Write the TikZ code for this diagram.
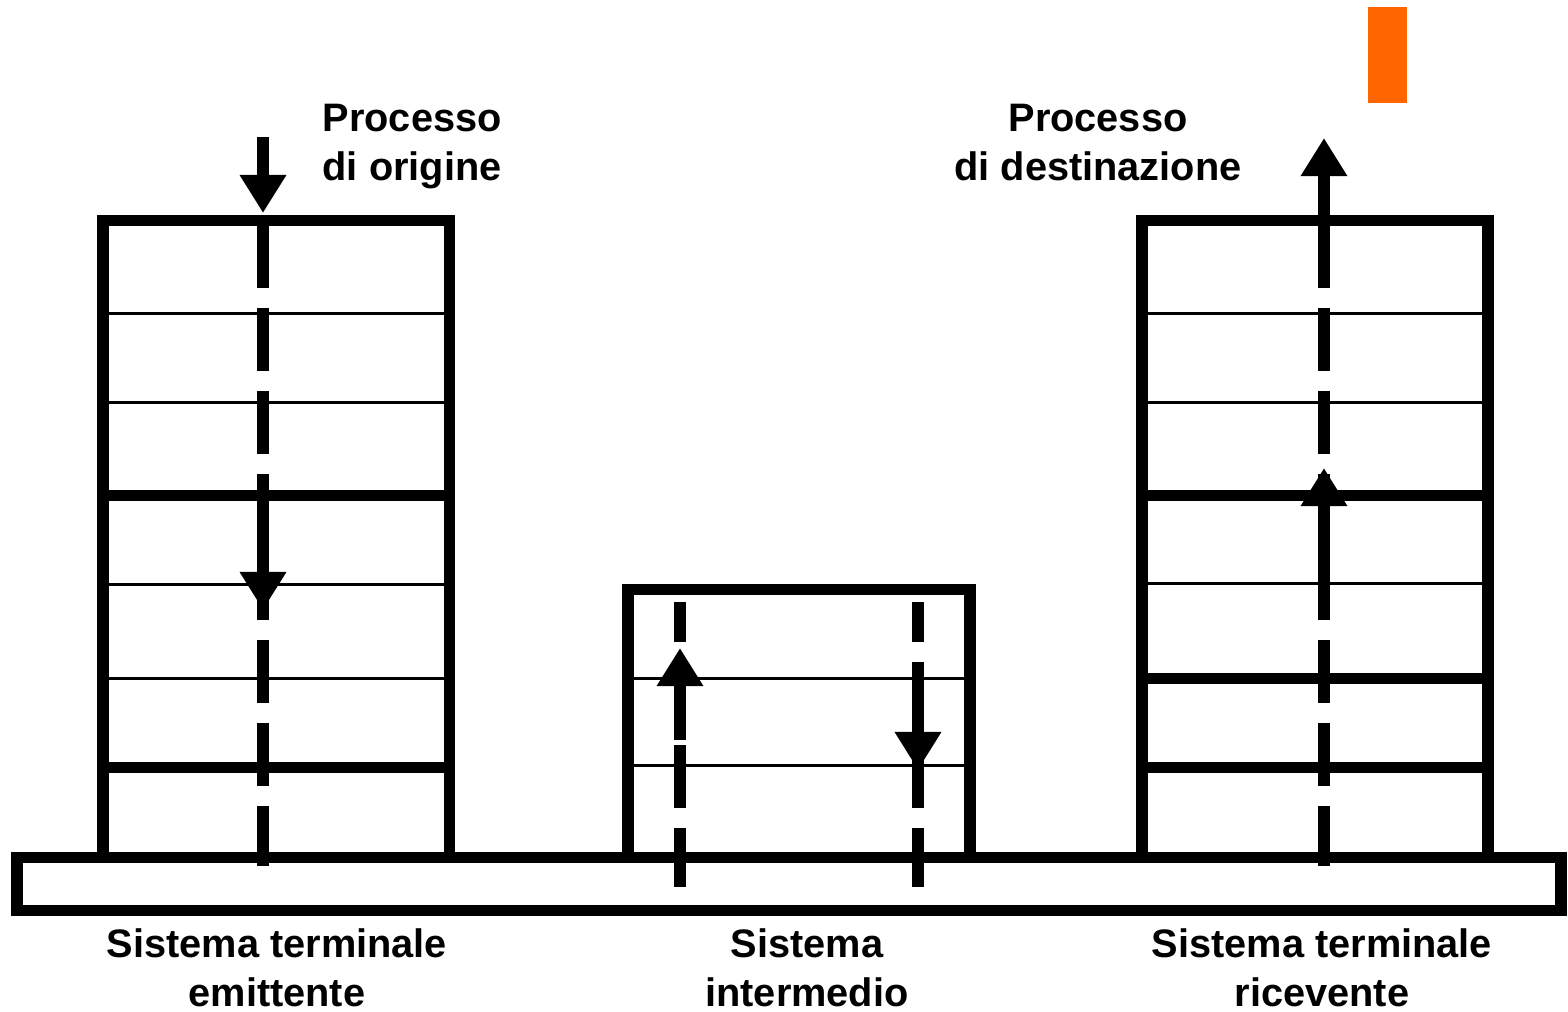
\documentclass[tikz,border=0pt]{standalone}
\usepackage{fontspec}
\setmainfont{Liberation Sans}
\usetikzlibrary{arrows.meta}
\definecolor{arancio}{HTML}{FF6600}
\begin{document}
\begin{tikzpicture}[x=0.01cm,y=-0.01cm,
        spesso/.style={line width=0.11cm},
        sottile/.style={line width=0.03cm},
        tratto/.style={line width=0.11cm,dash pattern=on 0.63cm off 0.2cm},
        freccia/.style={line width=0.11cm,-{Triangle[length=0.38cm,width=0.44cm]}},
        etic/.style={font=\fontsize{11.3}{13.7}\selectfont\bfseries,inner sep=0pt}]
        \useasboundingbox (0,0) rectangle (1568,1011);
        \fill[arancio] (1368,7) rectangle (1407,103);

        \draw[spesso] (17,857) rectangle (1561,910);

        \draw[spesso] (103,220) rectangle (449.5,857);
        \draw[sottile] (103,313) -- (449.5,313) (103,402) -- (449.5,402) (103,584) -- (449.5,584) (103,678) -- (449.5,678);
        \draw[spesso] (103,495) -- (449.5,495) (103,767) -- (449.5,767);

        \draw[spesso] (628,589) rectangle (970,857);
        \draw[sottile] (628,678) -- (970,678) (628,765) -- (970,765);

        \draw[spesso] (1142,220) rectangle (1488,857);
        \draw[sottile] (1142,313) -- (1488,313) (1142,402) -- (1488,402) (1142,583) -- (1488,583);
        \draw[spesso] (1142,495) -- (1488,495) (1142,678) -- (1488,678) (1142,767) -- (1488,767);

        \coordinate (e1) at (263,225);
        \coordinate (e2) at (263,866);
        \coordinate (i1) at (680,602);
        \coordinate (i2) at (680,887);
        \coordinate (j1) at (918,602);
        \coordinate (j2) at (918,887);
        \coordinate (r1) at (1324,225);
        \coordinate (r2) at (1324,866);
        \draw[tratto] (e1) -- (e2);
        \draw[tratto,dash phase=0.23cm] (i1) -- (i2);
        \draw[tratto,dash phase=0.23cm] (j1) -- (j2);
        \draw[tratto] (r1) -- (r2);

        \coordinate (a) at (263,137);
        \coordinate (b) at (263,213);
        \coordinate (c) at (263,528);
        \coordinate (d) at (263,610);
        \coordinate (f) at (680,740);
        \coordinate (g) at (680,648);
        \coordinate (h) at (918,691);
        \coordinate (k) at (918,770);
        \coordinate (m) at (1324,560);
        \coordinate (n) at (1324,468);
        \coordinate (p) at (1324,229);
        \coordinate (q) at (1324,138);
        \draw[freccia] (a) -- (b);
        \draw[freccia] (c) -- (d);
        \draw[freccia] (f) -- (g);
        \draw[freccia] (h) -- (k);
        \draw[freccia] (m) -- (n);
        \draw[freccia] (p) -- (q);

        \node[etic,anchor=base west,align=left] (po) at (322,180) {Processo\\di origine};
        \node[etic,anchor=base,align=center] (pd) at (1098,180) {Processo\\di destinazione};
        \node[etic,anchor=base,align=center] (se) at (277,1006) {Sistema terminale\\emittente};
        \node[etic,anchor=base,align=center] (si) at (807,1006) {Sistema\\intermedio};
        \node[etic,anchor=base,align=center] (sr) at (1322,1006) {Sistema terminale\\ricevente};
    \end{tikzpicture}
\end{document}
